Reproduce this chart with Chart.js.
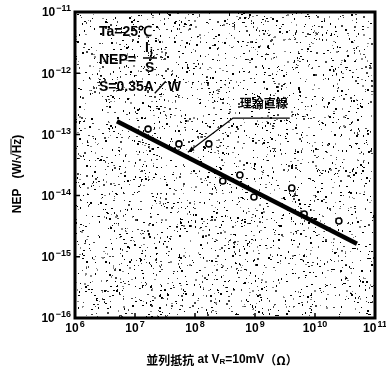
<!DOCTYPE html>
<html>
<head>
<meta charset="utf-8">
<script src="https://cdn.jsdelivr.net/npm/chart.js@4"></script>
<style>
  html, body { margin: 0; background: #fff; }
</style>
</head>
<body>
<canvas id="nepChart" width="386" height="372"></canvas>
<script>
// Measured points: parallel resistance (ohm) vs NEP (W/√Hz)
const resistance = [1.65e7, 5.4e7, 1.7e8, 2.9e8, 5.6e8, 9.6e8, 4.1e9, 6.6e9, 2.5e10];
const nepMeasured = [1.22e-13, 7.0e-14, 7.0e-14, 1.73e-14, 2.17e-14, 9.5e-15, 1.33e-14, 5.0e-15, 3.85e-15];

// Theoretical line (end points)
const theoryR = [5e6, 5e10];
const theoryNep = [1.64e-13, 1.64e-15];

// Decade tick exponents
const xTickExp = [6, 7, 8, 9, 10, 11];
const yTickExp = [-11, -12, -13, -14, -15, -16];

const FONT = '"Liberation Sans", Arial, sans-serif';
const CJK = '"Noto Sans CJK JP", "Liberation Sans", sans-serif';

// small deterministic generator for the scanned speckle texture
function lcg(seed) {
  let s = seed;
  return () => {
    s = (s * 1664525 + 1013904223) % 4294967296;
    return s / 4294967296;
  };
}

function drawPower(ctx, x, y, exp, align) {
  ctx.font = "bold 12px " + FONT;
  const base = ctx.measureText("10").width;
  ctx.font = "bold 9px " + FONT;
  const sup = String(exp).replace("-", "\u2212");
  const supW = ctx.measureText(sup).width;
  const total = base + supW + 1;
  let left = x;
  if (align === "right") left = x - total;
  if (align === "center") left = x - total / 2;
  ctx.textAlign = "left";
  ctx.textBaseline = "middle";
  ctx.font = "bold 12px " + FONT;
  ctx.fillText("10", left, y + 1);
  ctx.font = "bold 9px " + FONT;
  ctx.fillText(sup, left + base + 1, y - 3);
}

const framePlugin = {
  id: "frame",
  beforeDatasetsDraw(chart) {
    const { ctx, chartArea: a } = chart;
    const rnd = lcg(12345);
    ctx.save();
    for (let i = 0; i < 3300; i++) {
      const px = a.left + rnd() * (a.right - a.left);
      const py = a.top + rnd() * (a.bottom - a.top);
      const r = rnd();
      ctx.fillStyle = r < 0.5 ? "#000" : r < 0.8 ? "#444" : "#888";
      ctx.fillRect(Math.floor(px), Math.floor(py), rnd() < 0.4 ? 2 : 1, rnd() < 0.35 ? 2 : 1);
    }
    ctx.restore();
  },
  afterDraw(chart) {
    const { ctx, chartArea: a, scales } = chart;
    const xs = scales.x, ys = scales.y;
    ctx.save();
    ctx.fillStyle = "#000";
    ctx.strokeStyle = "#000";

    // frame
    ctx.lineWidth = 3;
    ctx.strokeRect(a.left, a.top, a.right - a.left, a.bottom - a.top);

    // inward ticks
    ctx.lineWidth = 1.5;
    ctx.beginPath();
    xTickExp.forEach((e) => {
      const px = xs.getPixelForValue(10 ** e);
      ctx.moveTo(px, a.bottom);
      ctx.lineTo(px, a.bottom - 5);
    });
    yTickExp.forEach((e) => {
      const py = ys.getPixelForValue(10 ** e);
      ctx.moveTo(a.left, py);
      ctx.lineTo(a.left + 5, py);
    });
    ctx.stroke();

    // tick labels
    yTickExp.forEach((e) => {
      drawPower(ctx, a.left - 4, ys.getPixelForValue(10 ** e), e, "right");
    });
    xTickExp.forEach((e) => {
      drawPower(ctx, xs.getPixelForValue(10 ** e), a.bottom + 10, e, "center");
    });

    // y axis title
    ctx.save();
    ctx.translate(18, 174);
    ctx.rotate(-Math.PI / 2);
    ctx.font = "bold 12px " + FONT;
    ctx.textBaseline = "middle";
    ctx.textAlign = "left";
    const p1 = "NEP   (W/\u221A", p2 = "Hz", p3 = ")";
    const w1 = ctx.measureText(p1).width, w2 = ctx.measureText(p2).width, w3 = ctx.measureText(p3).width;
    let lx = -(w1 + w2 + w3) / 2;
    ctx.fillText(p1, lx, 0);
    ctx.fillText(p2, lx + w1, 0);
    ctx.fillText(p3, lx + w1 + w2, 0);
    ctx.lineWidth = 1;
    ctx.beginPath();
    ctx.moveTo(lx + w1 - 1, -7);
    ctx.lineTo(lx + w1 + w2, -7);
    ctx.stroke();
    ctx.restore();

    // x axis title
    ctx.textBaseline = "middle";
    ctx.textAlign = "left";
    const parts = [
      ["並列抵抗", "bold 12px " + CJK, 0],
      [" at V", "bold 12px " + FONT, 0],
      ["R", "bold 8px " + FONT, 2],
      ["=10mV", "bold 12px " + FONT, 0],
      ["（Ω）", "bold 12px " + CJK, 0],
    ];
    let tw = 0;
    parts.forEach((p) => { ctx.font = p[1]; tw += ctx.measureText(p[0]).width; });
    let tx = 222 - tw / 2;
    parts.forEach((p) => {
      ctx.font = p[1];
      ctx.fillText(p[0], tx, 360 + p[2]);
      tx += ctx.measureText(p[0]).width;
    });

    // conditions text
    ctx.font = "bold 14px " + FONT;
    ctx.fillText("Ta=25\u2103", 99, 32);
    ctx.fillText("NEP=", 99, 60);
    ctx.fillText("I", 145, 48);
    ctx.font = "bold 10px " + FONT;
    ctx.fillText("j", 150, 52);
    ctx.lineWidth = 1.5;
    ctx.beginPath();
    ctx.moveTo(143, 58);
    ctx.lineTo(157, 58);
    ctx.stroke();
    ctx.font = "bold 14px " + FONT;
    ctx.fillText("S", 145, 68);
    ctx.fillText("S=0.35A\uFF0FW", 99, 87);

    // annotation for theory line
    const tipX = xs.getPixelForValue(7.6e7), tipY = ys.getPixelForValue(5.1e-14);
    const kneeX = xs.getPixelForValue(4.3e8), kneeY = ys.getPixelForValue(1.85e-13);
    const endX = xs.getPixelForValue(3.8e9);
    ctx.lineWidth = 1.3;
    ctx.beginPath();
    ctx.moveTo(endX, kneeY);
    ctx.lineTo(kneeX, kneeY);
    ctx.lineTo(tipX, tipY);
    ctx.stroke();
    const ang = Math.atan2(tipY - kneeY, tipX - kneeX);
    ctx.beginPath();
    ctx.moveTo(tipX, tipY);
    ctx.lineTo(tipX - 7 * Math.cos(ang - 0.35), tipY - 7 * Math.sin(ang - 0.35));
    ctx.lineTo(tipX - 7 * Math.cos(ang + 0.35), tipY - 7 * Math.sin(ang + 0.35));
    ctx.closePath();
    ctx.fill();
    ctx.font = "bold 12px " + CJK;
    ctx.textAlign = "center";
    ctx.fillText("理論直線", xs.getPixelForValue(1.4e9), ys.getPixelForValue(3.2e-13));
    ctx.restore();
  },
};

new Chart(document.getElementById("nepChart"), {
  type: "scatter",
  data: {
    datasets: [
      {
        type: "line",
        data: theoryR.map((r, i) => ({ x: r, y: theoryNep[i] })),
        borderColor: "#000",
        borderWidth: 4.5,
        pointRadius: 0,
        fill: false,
      },
      {
        data: resistance.map((r, i) => ({ x: r, y: nepMeasured[i] })),
        pointRadius: 3,
        pointBorderWidth: 1.6,
        borderColor: "#000",
        backgroundColor: "#fff",
      },
    ],
  },
  options: {
    responsive: false,
    animation: false,
    devicePixelRatio: 1,
    layout: { padding: { top: 12, right: 11, left: 0, bottom: 0 } },
    plugins: { legend: { display: false }, tooltip: { enabled: false } },
    scales: {
      x: {
        type: "logarithmic",
        min: 1e6,
        max: 1e11,
        grid: { display: false },
        border: { display: false },
        ticks: { display: false },
        afterBuildTicks: (s) => { s.ticks = xTickExp.map((e) => ({ value: 10 ** e })); },
        afterFit: (s) => { s.height = 54; },
      },
      y: {
        type: "logarithmic",
        min: 1e-16,
        max: 1e-11,
        grid: { display: false },
        border: { display: false },
        ticks: { display: false },
        afterBuildTicks: (s) => { s.ticks = yTickExp.map((e) => ({ value: 10 ** e })); },
        afterFit: (s) => { s.width = 75; },
      },
    },
  },
  plugins: [framePlugin],
});
</script>
</body>
</html>
